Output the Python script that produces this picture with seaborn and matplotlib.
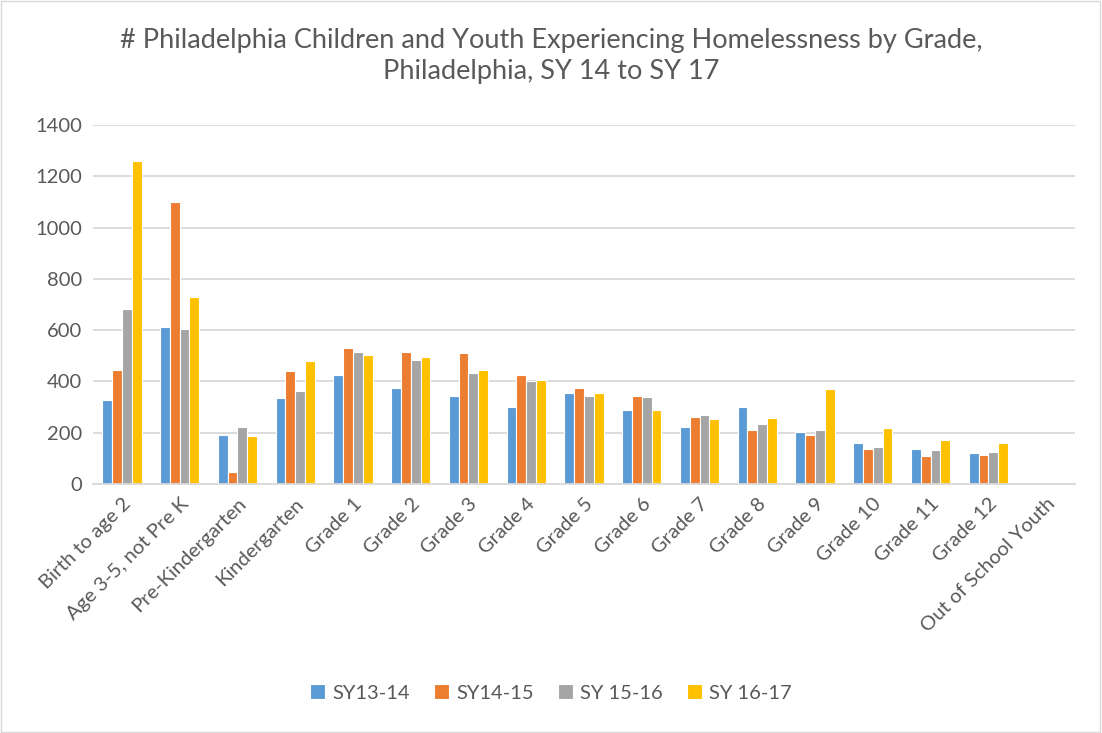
import matplotlib
matplotlib.use("Agg")
import matplotlib.pyplot as plt
import seaborn as sns
import numpy as np
import pandas as pd
from matplotlib.patches import Rectangle

# Data
grades = [
    "Birth to age 2", "Age 3-5, not Pre K", "Pre-Kindergarten", "Kindergarten",
    "Grade 1", "Grade 2", "Grade 3", "Grade 4", "Grade 5", "Grade 6", "Grade 7",
    "Grade 8", "Grade 9", "Grade 10", "Grade 11", "Grade 12", "Out of School Youth",
]
years = ["SY13-14", "SY14-15", "SY 15-16", "SY 16-17"]
sy13_14 = [327, 613, 191, 337, 427, 373, 344, 302, 353, 287, 224, 300, 203, 158, 138, 122, np.nan]
sy14_15 = [444, 1098, 48, 440, 530, 513, 509, 425, 374, 345, 262, 212, 193, 138, 109, 113, np.nan]
sy15_16 = [681, 605, 223, 362, 516, 482, 433, 403, 345, 340, 271, 235, 211, 145, 134, 124, np.nan]
sy16_17 = [1259, 728, 187, 480, 503, 494, 443, 404, 353, 289, 255, 258, 369, 220, 172, 160, np.nan]

colors = ["#5B9BD5", "#ED7D31", "#A5A5A5", "#FFC000"]
TEXT = "#595959"
GRID = "#D9D9D9"

df = pd.DataFrame({"Grade": grades, years[0]: sy13_14, years[1]: sy14_15,
                   years[2]: sy15_16, years[3]: sy16_17})
long_df = df.melt(id_vars="Grade", var_name="Year", value_name="Count").dropna()

sns.set_theme(style="white")
plt.rcParams["font.family"] = ["Lato", "DejaVu Sans"]

fig = plt.figure(figsize=(11.02, 7.33), dpi=100)
ax = fig.add_axes([93 / 1102, 1 - 484 / 733, (1075 - 93) / 1102, (484 - 125) / 733])

sns.barplot(data=long_df, x="Grade", y="Count", hue="Year", order=grades,
            hue_order=years, palette=colors, saturation=1, width=0.68, ax=ax,
            edgecolor="white", linewidth=0.8, errorbar=None)

ax.set_ylim(0, 1400)
ax.set_yticks(range(0, 1401, 200))
ax.set_xlim(-0.5, len(grades) - 0.5)
ax.yaxis.grid(True, color=GRID, linewidth=1.3)
ax.set_axisbelow(True)
for s in ["top", "right", "left"]:
    ax.spines[s].set_visible(False)
ax.spines["bottom"].set_color(GRID)
ax.spines["bottom"].set_linewidth(1.3)
ax.tick_params(axis="both", length=0, labelsize=14.5, colors=TEXT, pad=8)
ax.tick_params(axis="x", pad=8)
plt.setp(ax.get_xticklabels(), rotation=45, ha="right", rotation_mode="anchor")
ax.set_xlabel("")
ax.set_ylabel("")

fig.suptitle("# Philadelphia Children and Youth Experiencing Homelessness by Grade,\n"
             "Philadelphia, SY 14 to SY 17", y=0.962, fontsize=19.5, color=TEXT,
             linespacing=1.3)

handles, labels = ax.get_legend_handles_labels()
ax.legend_.remove()
fig.legend(handles, labels, loc="center", bbox_to_anchor=(0.5, 1 - 693 / 733),
           ncol=4, frameon=False, fontsize=14.5, labelcolor=TEXT,
           handlelength=0.75, handleheight=0.75, handletextpad=0.35, columnspacing=1.2)

fig.patches.append(Rectangle((0.001, 0.001), 0.997, 0.997, transform=fig.transFigure,
                             fill=False, edgecolor=GRID, linewidth=1))

plt.savefig("out.png", dpi=100)
plt.close()
